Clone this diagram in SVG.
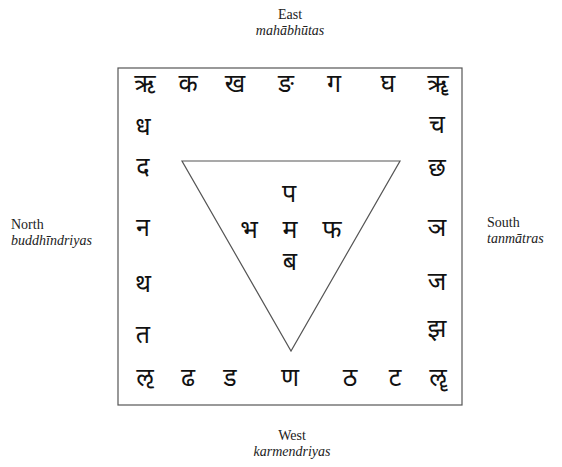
<svg xmlns="http://www.w3.org/2000/svg" width="562" height="467" viewBox="0 0 562 467">
<style>
.lbl{font-family:"Liberation Serif","Times New Roman",serif;font-size:14px;fill:#222;text-anchor:middle}
.it{font-style:italic}
.st{text-anchor:start}
.dv{font-family:"Noto Sans Devanagari","Noto Serif Devanagari","Lohit Devanagari","Mangal","Noto Sans",sans-serif;font-size:25px;fill:#111;text-anchor:middle;dominant-baseline:central}
.ln{fill:none;stroke:#555;stroke-width:1.2}
</style>
<rect width="562" height="467" fill="#fff"/>
<g id="frame">
<rect class="ln" x="118" y="68" width="344" height="337"/>
<polygon class="ln" points="182,161 400,161 291,351"/>
</g>
<g id="labels">
<text class="lbl" x="290" y="19">East</text>
<text class="lbl it" x="290" y="35">mahābhūtas</text>
<text class="lbl" x="292" y="440">West</text>
<text class="lbl it" x="292" y="456">karmendriyas</text>
<text class="lbl st" x="11" y="229">North</text>
<text class="lbl it st" x="11" y="245">buddhīndriyas</text>
<text class="lbl st" x="487" y="227">South</text>
<text class="lbl it st" x="487" y="243">tanmātras</text>
</g>
<g id="top-row">
<text class="dv" x="145" y="86">ऋ</text>
<text class="dv" x="188" y="86">क</text>
<text class="dv" x="235" y="86">ख</text>
<text class="dv" x="286" y="86">ङ</text>
<text class="dv" x="334" y="86">ग</text>
<text class="dv" x="388" y="86">घ</text>
<text class="dv" x="438" y="86">ॠ</text>
</g>
<g id="left-col">
<text class="dv" x="143" y="129">ध</text>
<text class="dv" x="143" y="169">द</text>
<text class="dv" x="143" y="230">न</text>
<text class="dv" x="143" y="286">थ</text>
<text class="dv" x="143" y="337">त</text>
</g>
<g id="right-col">
<text class="dv" x="437" y="127">च</text>
<text class="dv" x="437" y="170">छ</text>
<text class="dv" x="437" y="230">ञ</text>
<text class="dv" x="437" y="284">ज</text>
<text class="dv" x="437" y="331">झ</text>
</g>
<g id="bottom-row">
<text class="dv" x="145" y="380">ऌ</text>
<text class="dv" x="188" y="380">ढ</text>
<text class="dv" x="230" y="380">ड</text>
<text class="dv" x="290" y="380">ण</text>
<text class="dv" x="350" y="380">ठ</text>
<text class="dv" x="395" y="380">ट</text>
<text class="dv" x="438" y="380">ॡ</text>
</g>
<g id="triangle-letters">
<text class="dv" x="289" y="196">प</text>
<text class="dv" x="249" y="232">भ</text>
<text class="dv" x="290" y="232">म</text>
<text class="dv" x="332" y="232">फ</text>
<text class="dv" x="290" y="264">ब</text>
</g>
</svg>
